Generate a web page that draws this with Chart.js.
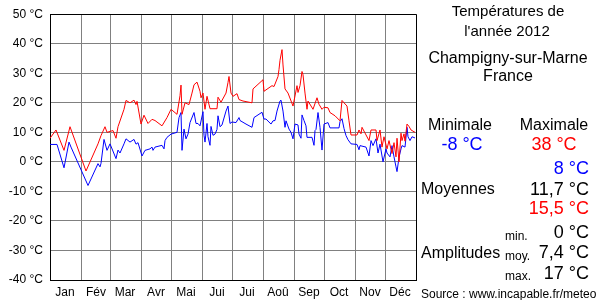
<!DOCTYPE html>
<html>
<head>
<meta charset="utf-8">
<script src="https://cdn.jsdelivr.net/npm/chart.js@4.4.0/dist/chart.umd.min.js"></script>
<style>
  html, body { margin: 0; padding: 0; background: #fff; }
  #wrap { position: relative; width: 600px; height: 300px; font-family: "Liberation Sans", Arial, sans-serif; }
  .t { position: absolute; white-space: nowrap; line-height: 1; }
</style>
</head>
<body>
<div id="wrap"><canvas id="temps" width="600" height="300"></canvas></div>
<script>
// Jour de l'année (0 = 1er janvier) et températures relevées, mois par mois
const maxDays = [0, 6, 14, 20,
  36, 48, 51, 55, 57,
  63, 66, 68, 74, 76, 80, 84, 86, 87,
  91, 94, 98, 102, 105, 112, 117,
  121, 127, 130, 131, 132, 135, 139, 142, 144, 147, 150, 151,
  153, 155, 157, 160, 167, 168, 171, 176, 178, 179, 181,
  183, 187, 189, 193, 202, 203,
  213, 214, 222, 224, 228, 229, 230, 232, 233, 235, 238, 243,
  247, 248, 250, 252, 253, 255, 257, 258, 263, 267, 269, 272,
  274, 278, 280, 285, 290, 292, 294, 297, 299, 301,
  307, 309, 311, 312, 319, 321, 326, 327, 330, 332, 334,
  337, 339, 342, 344, 346, 347, 349, 351, 352, 354, 355, 357, 359, 361, 365];
const maxTemps = [8, 10.8, 3.9, 11.9,
  -3.1, 6.1, 8.9, 11.9, 10,
  10.6, 8, 11.9, 17.8, 20.8, 20, 20.9, 19.4, 20.5,
  12.8, 15.8, 13, 14.4, 14, 12.2, 15,
  17.8, 16.1, 22.4, 26, 16.1, 20, 19.4, 23.3, 26.1, 27, 23.9, 21.7,
  23.3, 17.8, 22.2, 18, 18, 21.9, 20.2, 23.3, 26.9, 28.9, 23.3,
  22.2, 23.1, 21.1, 20.6, 20, 24.7,
  27.8, 23.9, 25.8, 25.5, 28.9, 31.3, 34.4, 38, 32.8, 24.7, 23.3, 18.9,
  25.8, 23.5, 25.8, 30.6, 29.5, 23.3, 17.8, 20.6, 17.8, 21.7, 19.5, 17.8,
  18.5, 18.3, 16.7, 15.6, 13.9, 20.8, 20, 18.9, 13.9, 9.1,
  9.1, 10.8, 9.5, 11.7, 7.2, 10.8, 10.8, 7.2, 10.8, 5, 8.5,
  4.4, 7.2, 2.8, 6.5, 1.7, 8, 0, 9.7, 7.2, 9.5, 7, 12.8, 12, 10.8, 10];

const minDays = [0, 7, 14, 19, 21,
  38, 48, 50, 51, 54, 57,
  60, 66, 68, 70, 74, 76, 80, 84, 86, 88,
  92, 95, 100, 102, 103, 105, 112, 114, 115, 117,
  121, 127, 129, 131, 132, 134, 136, 138, 140, 144, 146, 148, 150,
  153, 154, 155, 157, 158, 160, 161, 163, 165, 167, 168, 170, 172, 176, 178, 180,
  182, 186, 189, 190, 196, 202, 204, 212,
  214, 216, 221, 223, 225, 227, 230, 231, 233, 235, 236, 239, 241, 243,
  245, 248, 249, 251, 252, 254, 256, 257, 262, 264, 265, 266, 268, 270, 272,
  274, 278, 280, 289, 290, 292, 294, 296, 298, 301,
  307, 309, 310, 316, 319, 321, 323, 326, 328, 330, 333,
  336, 337, 340, 342, 344, 346, 347, 349, 351, 352, 355, 357, 358, 360, 362, 365];
const minTemps = [5.9, 5.9, -2, 6.7, 5,
  -8, -0.6, -1.7, -0.5, 7.6, 3.9,
  6.1, 1.1, 4, 3, 6.1, 7.8, 6.7, 7.6, 6, 6.5,
  2, 3.9, 4.4, 5, 3.9, 5, 5.6, 4.4, 7.2, 8.3,
  9.4, 10, 15, 16.7, 3.9, 11.1, 7.8, 9.4, 13.3, 16.7, 13, 13, 12.2,
  17, 9, 6.7, 13, 8.5, 5.6, 12, 9, 9.4, 11, 15.6, 11.9, 12.5, 17.2, 18.9, 13,
  13.5, 13.3, 15, 14, 12.8, 11.7, 15, 16.8,
  14.5, 14.5, 12.8, 13.9, 14, 17.2, 20.6, 20.9, 17.2, 11.7, 13.9, 11.1, 10, 7.8,
  12.8, 12.5, 9.4, 8, 15.9, 14, 12.2, 8.3, 8.3, 5.6, 10.6, 11, 16.7, 11.7, 4,
  12.8, 13.3, 11.5, 11.5, 13.6, 14.6, 11.3, 8.9, 7.5, 6.1,
  5.9, 4.1, 5.5, 5, 2, 7.2, 5.5, 7.8, 3, 6, 0,
  4.4, 3, 1.7, 5.5, 1.7, -1.7, -3.3, 1.5, 4.4, 5.5, 5, 11.7, 8.5, 7.2, 8.5, 8.1];

const monthStarts = [0, 31, 60, 91, 121, 152, 182, 213, 244, 274, 305, 335, 366];
const monthLabels = ['Jan', 'Fév', 'Mar', 'Avr', 'Mai', 'Jui', 'Jui', 'Aoû', 'Sep', 'Oct', 'Nov', 'Déc'];

const FONT = '"Liberation Sans", Arial, sans-serif';
Chart.defaults.font.family = FONT;
Chart.defaults.color = '#000';

const toPoints = (days, temps) => days.map((d, i) => ({ x: d, y: temps[i] }));

new Chart(document.querySelector('#temps'), {
  type: 'line',
  data: {
    datasets: [
      { label: 'Maximale', data: toPoints(maxDays, maxTemps), borderColor: '#ff0000', borderWidth: 1, pointRadius: 0, tension: 0, fill: false },
      { label: 'Minimale', data: toPoints(minDays, minTemps), borderColor: '#0000ff', borderWidth: 1, pointRadius: 0, tension: 0, fill: false }
    ]
  },
  options: {
    responsive: false,
    animation: false,
    layout: { padding: { top: 10, right: 184, left: 0, bottom: 0 } },
    plugins: { legend: { display: false }, tooltip: { enabled: false } },
    scales: {
      x: {
        type: 'linear', min: 0, max: 366,
        afterBuildTicks: s => { s.ticks = monthStarts.map(v => ({ value: v })); },
        afterFit: s => { s.height = 20; },
        grid: { color: c => (c.tick && c.tick.value === 366 ? '#000' : '#808080'), drawTicks: false },
        border: { color: '#000', width: 1 },
        ticks: {
          autoSkip: false, maxRotation: 0, padding: 5, labelOffset: 15,
          font: { size: 12 },
          callback: (v, i) => monthLabels[i] || ''
        }
      },
      y: {
        min: -40, max: 50,
        afterFit: s => { s.width = 50; },
        grid: { color: c => (c.tick && c.tick.value === 50 ? '#000' : '#808080'), drawTicks: false },
        border: { color: '#000', width: 1 },
        ticks: { stepSize: 10, padding: 7, font: { size: 12 }, callback: v => v + ' °C' }
      }
    }
  }
});

// Panneau de droite
const wrap = document.querySelector('#wrap');
function place(text, x, y, align, size, color) {
  const el = document.createElement('div');
  el.className = 't';
  el.textContent = text;
  el.style.left = x + 'px';
  el.style.top = y + 'px';
  el.style.fontSize = size + 'px';
  el.style.color = color || '#000';
  const dx = align === 'center' ? '-50%' : align === 'right' ? '-100%' : '0';
  el.style.transform = 'translate(' + dx + ',-50%)';
  wrap.appendChild(el);
}
place('Températures de', 508, 10, 'center', 15);
place("l'année 2012", 507, 30, 'center', 15);
place('Champigny-sur-Marne', 508, 58, 'center', 16);
place('France', 508, 76, 'center', 16);
place('Minimale', 460, 125, 'center', 16);
place('Maximale', 554, 125, 'center', 16);
place('-8 °C', 462, 144, 'center', 18, '#0000ff');
place('38 °C', 554, 144, 'center', 18, '#ff0000');
place('8 °C', 589, 168, 'right', 18, '#0000ff');
place('Moyennes', 421, 189, 'left', 16);
place('11,7 °C', 589, 189, 'right', 18);
place('15,5 °C', 589, 208, 'right', 18, '#ff0000');
place('min.', 505, 236, 'left', 12);
place('0 °C', 589, 232, 'right', 18);
place('Amplitudes', 421, 253, 'left', 16);
place('moy.', 505, 256, 'left', 12);
place('7,4 °C', 589, 252, 'right', 18);
place('max.', 505, 276, 'left', 12);
place('17 °C', 589, 273, 'right', 18);
place('Source : www.incapable.fr/meteo', 421, 294, 'left', 12);
</script>
</body>
</html>
